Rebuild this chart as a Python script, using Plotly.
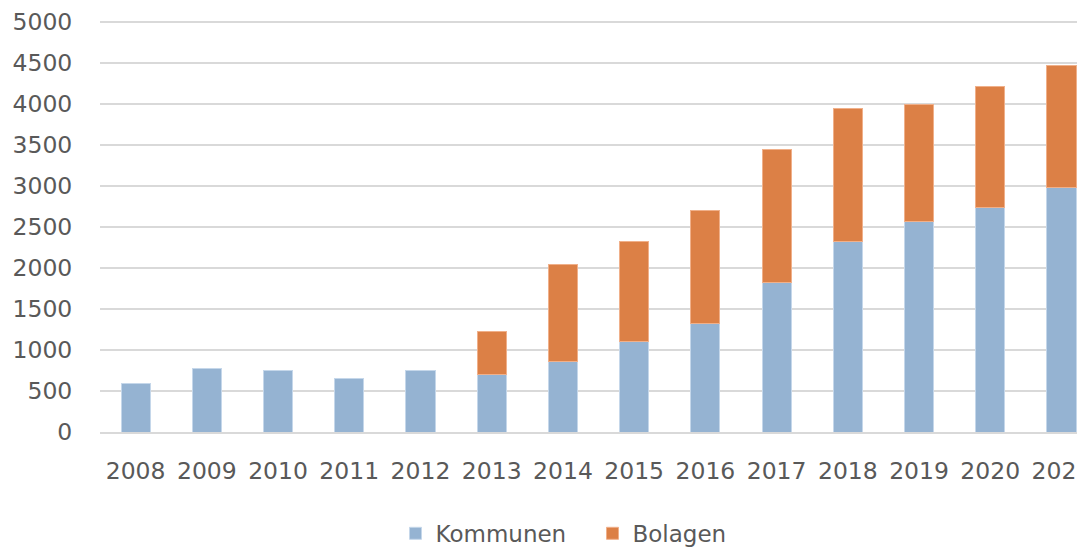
import plotly.graph_objects as go

years = ["2008", "2009", "2010", "2011", "2012", "2013", "2014",
         "2015", "2016", "2017", "2018", "2019", "2020", "2021"]
kommunen = [590, 780, 755, 650, 755, 700, 860, 1105, 1325, 1825, 2320, 2565, 2735, 2980]
bolagen = [None, None, None, None, None, 520, 1185, 1215, 1375, 1625, 1620, 1430, 1480, 1485]
y_ticks = [0, 500, 1000, 1500, 2000, 2500, 3000, 3500, 4000, 4500, 5000]

font = dict(family="DejaVu Sans", size=23.5, color="#595959")

fig = go.Figure()
fig.add_trace(go.Bar(x=years, y=kommunen, name="Kommunen",
                     marker=dict(color="#95B3D2", line=dict(color="#C5D7EA", width=1))))
fig.add_trace(go.Bar(x=years, y=bolagen, name="Bolagen",
                     marker=dict(color="#DC8046", line=dict(color="#F0B08A", width=1))))

# the page body adds an 8px offset, so the figure is 8px smaller than the window
fig.update_layout(
    barmode="stack",
    bargap=0.59,
    width=1077, height=541,
    margin=dict(l=92, r=0, t=12, b=117, autoexpand=False),
    paper_bgcolor="white", plot_bgcolor="white",
    font=font,
    showlegend=True,
    legend=dict(orientation="h", x=0.30, xanchor="left", y=-0.246, yanchor="middle",
                font=dict(family="DejaVu Sans", size=23, color="#595959"),
                itemwidth=30, entrywidth=152, entrywidthmode="pixels",
                traceorder="normal"),
)
fig.update_xaxes(type="category", range=[-0.5, 13.33], showgrid=False,
                 showline=True, linecolor="#D9D9D9", linewidth=1.5,
                 ticks="outside", ticklen=17, tickcolor="rgba(0,0,0,0)",
                 tickfont=font, automargin=False)
fig.update_yaxes(range=[0, 5025], tickvals=y_ticks, showgrid=True,
                 gridcolor="#D9D9D9", gridwidth=1.5, zeroline=False,
                 ticks="outside", ticklen=22, tickcolor="rgba(0,0,0,0)",
                 tickfont=font, automargin=False)

fig.write_html("out.html")
